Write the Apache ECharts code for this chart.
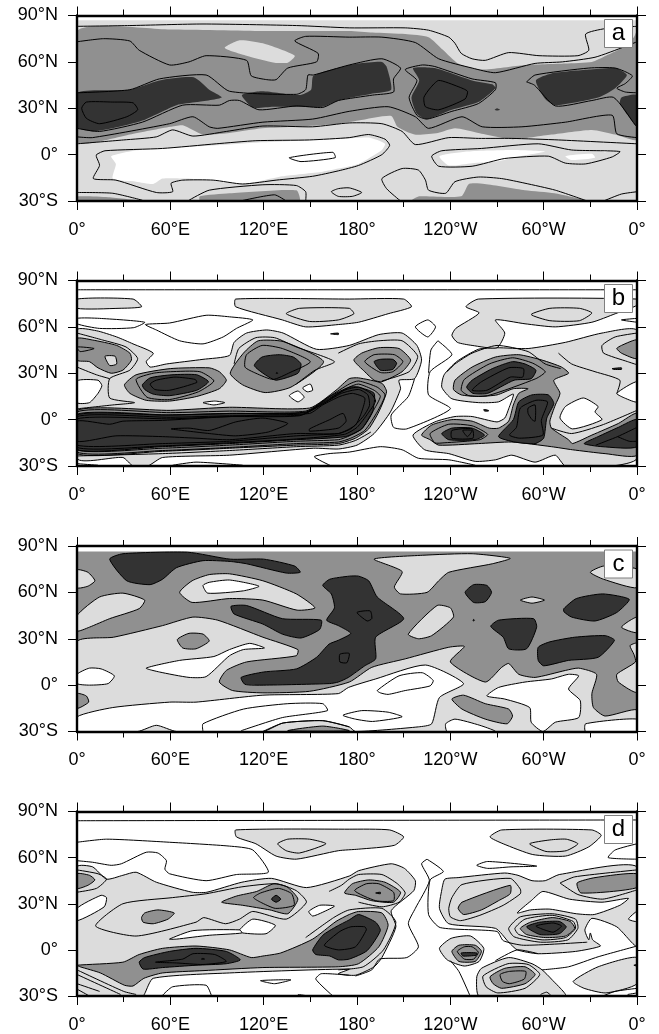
<!DOCTYPE html>
<html><head><meta charset="utf-8">
<style>html,body{margin:0;padding:0;background:#fff}#c{width:659px;height:1034px}</style>
<script src="https://cdn.jsdelivr.net/npm/echarts@6/dist/echarts.min.js"></script>
</head><body><div id="c"></div>
<script>
// Tick labels
const xTickValues=[0,60,120,180,240,300,360];
const xTickLabels=['0°','60°E','120°E','180°','120°W','60°W','0°'];
const yTickValues=[-30,0,30,60,90];
const yTickLabels=['30°S','0°','30°N','60°N','90°N'];
const panelLetters=['a','b','c','d'];
const shadeColors=['#ffffff','#dcdcdc','#909090','#333333'];
// Every contour is a flat list lon,lat,lon,lat... ; fills are [shade level, contour]
const aBase=[1,87];
const aFill=[
[2,[0,80,60,81,120,80,175,80,190,79,211,78,226,76,235,68,245,59,260,55,288,58,314,59,331,60,340,64,350,69,358,76,360,80,360,10,346,13,331,16,305,13,280,10,258,14,243,17,232,14,217,13,206,18,202,25,181,22,168,20,141,18,119,17,98,14,81,13,68,19,60,18,34,13,12,8,0,8]],
[2,[0,-27,20,-27.5,42,-30,0,-30]],
[2,[79,-27,98,-25,141,-23,143,-30,79,-30]],
[2,[215,-30,220,-27,247,-27,252,-19,262,-19,288,-23,307,-25,327,-30]],
[1,[95,69,104.5,74,119.5,72,140,64,135.5,59.5,127,59.5,109,64]],
[3,[0,40,34,42,53,48,75,50,85,42,93,37,77,34,64,32,42,22,23,17,10,15,0,18]],
[3,[360,38.5,350,37,349,33,358,20,360,18]],
[3,[106,38.5,119,41,143,38.5,150.5,42,152,51,175,58,181,59,196,60,199,57,202,42,190,39.5,168,35,158,31,141,31,126,31,113,30.5]],
[3,[216,56,230,56,254,48,267,45.5,269,43,258,34,241,29,225,23,218.5,26.5,215,37,220,48]],
[3,[295,48,305,52.5,329,55,346,56,353.5,51.5,346,43,335,37,307.5,32,301,36]],
[0,[22,-1,40,3,89.5,6,119.5,8,175,10.5,187.5,11,198,7,196,3,181,-6,168,-9,158,-11,132,-14,107,-19,85,-16.5,70,-15.5,55,-15.5,49,-19,38,-17.5,23,-15.5,25,-6]],
[0,[233,-1,251,2,280,3,301,2,285,-1,269,-4.5,254,-5.5,239,-7]],
[0,[314,-1,331,0.5,333,-2,318,-3.5]],
[0,[337,2,341,2.5,340,1.5]],
[3,[268.5,29,270,30,272,29,270,28.5]]
];
const aClosed=[
[211,55,222,58,230,57,254,49,269,46.5,269,42,258,33,241,28,225,23,218.5,25.5,213.5,37,218.5,48],
[232.5,48,245,44,251,41,249.5,36,232.5,29,224,31,223,37,227,43],
[3,30,6,34,23,34,36,33.5,39,29,32,24.5,14.5,20,6,23.5],
[12.5,0,18,2.5,55,4,89.5,7,115,9,149.5,9.5,175,11,187.5,13,198,10,201,6,196,0,181,-7,168,-10.5,151.5,-14,128,-16.5,106.5,-19,87.5,-16.5,68,-16.5,60.5,-18.5,61.5,-24,51,-24.5,25,-16.5,10.5,-15.5,14.5,-7,12.5,-1.5],
[228,-1,234.5,2.5,260,4,296.5,7,318,3,349,2,344,-1.5,327,-6,314,-5.5,303,-1,275,-2.5,254,-7.5,232.5,-7.5],
[163.5,-24,168,-22,175,-21.5,183,-24.5,177,-27,168,-27],
[136.5,-2,164.5,1.5,166,-2,144,-4.5]
];
const aOpen=[
[0,83,34,83.5,81,84.5,141,83.5,175,82,211,82,226,80.5,239,76,243,72,247,65.5,254,62,262.5,61,277.5,66,297,64,322,64,329,67.5,327,78,339.5,81.5,360,83],
[0,73,17,75,34,73.5,40,67.5,59.5,58,72,60,83,64,109,61,112,51,122,48.5,128,48.5,135.5,56,154,60,155,65.5,140,73.5,147,76.5,175,76,196,76,217.5,72.5,232.5,62,254,56,269,53,294.5,59,312,60,333,63,352.5,70,360,73],
[0,40,34,42,53,49,83,51.5,98,41,141,39,147,42,148.5,51.5,152,51.5,175,58,196,62,208,56,203.5,49,203.5,40.5,190,38.5,168,35,158,30.5,141,31.5,117,29,104.5,35,98,35,91.5,32,68,32,42,21,14.5,15,0,17],
[289,47,294.5,51.5,329,56,346,56,357,51,352.5,46,347,43,352.5,40.5,360,40],
[289,47,294,45,307.5,31.5,331,35,345,37,359,19,360,18],
[0,11.5,10,11,59.5,20,74.5,24.5,85,18,90.5,17,119.5,21,151.5,23,175,28,200,31,217.5,24.5,226,17,247.5,24.5,260.5,18,286,18,314,21,344,25.5,347,13.5,360,11],
[0,7,30,9.5,51,11.5,61.5,16,74.5,12,96,15,119.5,18.5,151.5,18,175,20.5,196,20,209,15,217.5,6.5,239,11,258,10.5,279.5,10.5,309.5,9.5,360,7],
[208,-30,199,-22,196,-15.5,209,-9,219.5,-10,224,-16.5,226,-23,237,-25,243,-17.5,258,-14.5,273,-15.5,288,-18.5,307.5,-23,328,-30],
[0,-24.5,23,-25,42,-29.5],
[72,-29.5,85,-23,119.5,-19.5,141,-20,147,-24,147,-30],
[105,-30,127,-26,134.5,-30],
[338.5,-30,350,-25.5,360,-24]
];
const bFill=[
[1,[0,58,12.5,57.5,25.5,53.5,36,49,49,43,44.5,37.5,47,34,57.5,36,81,39,98,41.5,101,50,109,56,122,58,132.5,56,154,45.5,175,48,194,55,209,56,218.5,48,221.5,38.5,217,26.5,207,25.5,208,20,201.5,5,191,-9,180,-16.5,168,-19,152,-18.5,98,-23,55,-24.5,45.5,-30,36,-30,29.5,-24.5,0,-25]],
[1,[270,46.5,290,46,314,50,337.5,56,360,57.5,360,-25,344,-30,314,-30,307.5,-23,294.5,-27.5,279.5,-23,269,-26,256,-27,239,-22,223.5,-19.5,216,-10,230,-1.5,243,2,254,2,270,-1.5,275,1,277.5,7,280.5,16.5,271,11.5,258,11,241,13.5,234.5,21,236,29,244,37.5,258,45.5]],
[1,[0,78,36,78,41.5,73,27,72,0,72]],
[1,[102,78,175,78,210,78,215,73,200,68.5,181,63,168,61.5,147,60,132,64.5,102,73]],
[1,[258,78,360,78,360,74,346,68.5,331,63,307.5,60,288,62,269,64.5,275,56,270,46.5,254,48,244.5,50,241,54.5,243.5,59,258.5,69,250,73]],
[0,[0,25,13.5,25.5,16,22,13.5,17,8,11,0,11]],
[0,[81,11,88.5,12,95,11,88,9.5]],
[0,[136.5,15.5,142,18.5,146,14.5,142,11.5]],
[0,[145,20.5,150,23,151.5,19,148,18]],
[0,[310.5,1,314,8.5,325.5,14,335,8.5,333,5,337.5,0,318.5,-6]],
[0,[347,17,360,24.5,360,11.5,352,14]],
[2,[0,52.5,10,51.5,25.5,48,34,43,35,38.5,29.5,32,22,30,13.5,33.5,8,37.5,0,38.5]],
[2,[360,51.5,350,48,347,46,350,43,360,39.5]],
[1,[18,41,24.5,41,25.5,36,21,35]],
[2,[30.5,22.5,38,29,60,33,85,33.5,91.5,31,96,25.5,91.5,20,77,15,59.5,12,44.5,12.5,34,17]],
[3,[42,22.5,47,27,61,29,77,29,84.5,24.5,77,19,59.5,15.5,49,16.5,43.5,19.5]],
[2,[98.5,30,107,43,116.5,51,132.5,50.5,158.5,37.5,137.5,21,121,17.5,106.5,22.5]],
[3,[114,35,119,40.5,130,42,139,40.5,144,36,142,30,128,25.5,121,29]],
[2,[178,38.5,183,43,194,46.5,207,46,214.5,38.5,209,31,196,24.5,191,25.5,185,31]],
[3,[191,37.5,195,39,203,39,205.5,36.5,203,32.5,195,32]],
[2,[0,6,60,6,98,8,149.5,7.5,166.5,19,175,26.5,181,27,196,23.5,199,18,194,5,187.5,-6,179,-12,168,-15.5,141,-16.5,98,-18.5,55,-20.5,0,-22]],
[3,[0,3,55,3,98,4,147.5,5,162.5,15,175,21,181,21,191,17,190,5,183,-6,172.5,-11,141,-13,98,-15.5,55,-17.5,0,-19.5]],
[2,[242,19.5,243,25.5,254,34,269,40.5,284,42,299,38.5,311.5,34,316,30,306.5,25.5,310.5,17,307.5,9.5,304,-1,305,-5.5,316,-13,318.5,-15.5,331,-10,348,-2.5,360,4,360,-23,339.5,-22,318.5,-19.5,305,-17.5,279.5,-14.5,258,-15.5,232.5,-16.5,227,-13,221.5,-10,228,-3.5,241,0,254,-1,265,-5.5,271,-5.5,277.5,-1,280.5,9.5,284,17,290,20,280.5,20,270,16,258,15,247,16]],
[3,[250.5,21,254,25.5,267,33,280,37.5,288,36,295,32,292,26.5,281,25.5,264,17,254.5,17]],
[3,[280.5,0,284,11.5,292.5,16,303,16,306.5,10.5,302,1,300,-12,294.5,-15.5,281.5,-14.5,271,-11]],
[3,[234.5,-9,241,-5.5,254,-5.5,262,-10,256,-13,239,-13]],
[3,[326,-15.5,335,-11,348,-5,360,0,360,-17.5,337.5,-17.5]],
[3,[163,55.5,168,56,168,55]],[3,[344,33,350,33.5,350,32.5,345,32.5]],[3,[261.5,6.5,264.5,6,264.5,5.5,262,5.5]],[3,[128,30,128.5,30.5,129,30]]
];
const bClosed=[
[0,47,11,46,2,44],
[38,26,49,30,60,31,79,31,88,25,78,18,59.5,13,45,14.5],
[47,23,51,25.5,63,27.5,76,26,77,24,59.5,19,50,19.5],
[108,34,109,42,119,48,132,46,150,37.5,137,30.5,126,26,115,30],
[185,37.5,191,42,204,42,209.5,37.5,203,31,195,30.5],
[0,5,60,4.5,98,5.5,147,5.5,163,15.5,175,23,181,25,193,21,198,16,193,5,185,-7,176,-12,168,-14.5,141,-15.5,98,-18,55,-20,0,-21],
[0,3.5,60,3,98,4,146,4.5,161,13,175,21,181,23,191,19,195,15,190,5,183,-6,174,-11,168,-13,141,-14,98,-16.5,55,-18.5,0,-19.5],
[0,2,60,1.5,98,2.5,144,3,159,11,172,19,181,21,189,17,192,12,187,4,180,-5,172,-9.5,141,-12.5,98,-15,55,-17,0,-18],
[0,0.5,60,0.5,98,2,143,2.5,158,10,170,17,181,19.5,187,16,188,9,184,2,176,-6,168,-9,141,-10.5,98,-14,55,-15.5,0,-16.5],
[0,-1,21,-3,29.5,-1,55,-0.5,89.5,1.5,119.5,3,149.5,4,158,9.5,169,15,177,17,185,14,183,5,179,-3.5,168,-9,141,-9,98,-13,76.5,-12,55,-11,25,-10.5,0,-14],
[60.5,-6,72,-5.5,85,-7,102,-1.5,119.5,1,135.5,-2.5,123,-8,102,-10.5,85,-9,72,-7.5],
[149.5,-6,162.5,0,171,4,173,-1,168,-5.5,149.5,-7.5],
[254,19,260,24.5,277.5,33.5,287,33,286.5,27.5,278.5,27.5,263.5,19],
[247,19,249,26,265,36,280,40,293,36.5,301,31,295,26.5,264,15.5,252,15.5],
[282.5,-5,285,7.5,295,12.5,302.5,11.5,298.5,-0.5,299.5,-10,284.5,-12,278,-10],
[290,7.5,294.5,9.5,294.5,-1,292.5,0,290,4],
[241,-7,254,-6,254.5,-12,241,-12],
[248,-7,254,-7,251,-11],
[227,-9,239,-3,254,-4,264,-9.5,259,-13,236,-15,230,-15],
[44,61.5,59.5,62.5,83,67.5,98,66.5,113,64.5,102.5,59,94,53.5,81,49,66,51,51,58],
[0,65.5,14.5,65.5,43.5,63,36.5,59.5,14.5,59,0,62],
[217.5,60,225.5,64.5,230.5,60,225.5,53.5],
[292,68,304,72,323,72,331,69,323,64,304,64],
[134.5,68.5,143,72,175,72,178,68.5,168,64.5,149.5,63.5]
];
const bOpen=[
[0,84,360,84],
[360,65.5,350,64.5,360,63],
[0,56,16.5,51.5,31.5,47,39,39.5,34,32,21,26.5,21,14,37,11,23,9.5,0,7],
[0,34,12.5,29,21,26.5],
[360,56,346,53.5,337.5,48,338.5,43,354,37.5,360,35.5],
[101,36,104,46,115,53,127,53,141,47,165.5,37.5,153,32,141,23],
[168,43,181,49,194,51,209,51,219,41,213.5,31,196,25],
[232,51,241,42,227,31,226,16,240,7,212,-6,203.5,-5,202,3,213,15,217,26.5],
[232,51,227.5,45,226,30],
[163.5,-30,152.5,-24,162,-22,175,-21,195,-17.5,209,-19.5,219.5,-25,239,-26,256,-29.5],
[61.5,-29.5,76.5,-27.5,106.5,-29.5],
[0,-28.5,13.5,-29.5],
[309.5,43,318,36,333,31,349,25.5,347,17],
[305,-5.5,318,-9,337.5,-3.5,360,6],
[333.5,-16.5,347.5,-11,360,-5],
[347.5,-11,355,-14,360,-14],
[238,31,243,36,254,43,270,48,290,44,301,36,311,33],
[0,-23.5,55,-22,98,-20,141,-17.5,168,-16.5,179,-13.5,189,-8]
];
const cBase=[2,86.5];
const cFill=[
[1,[0,28,23.5,31,55,38.5,74.5,44,90.5,42,119.5,31,142,23,141,19,109,15,96,9.5,91.5,2,100,-3.5,119.5,-5,149.5,-4,175,2,189.5,11.5,211,17,239,24.5,249,25,240,15,262.5,2,273,11.5,277.5,14,284,7,294.5,5,314,9.5,322.5,11,334,7,331,-5.5,332,-14.5,339.5,-20,360,-16,360,-30,0,-30]],
[1,[360,27,355.5,25.5,358,20,359,15,347,7,348,2,360,-4.5]],
[1,[350,37.5,360,44,360,34]],
[1,[330,73,338.5,77,360,75,360,63,338.5,68.5]],
[1,[0,74.5,7,73,11.5,67.5,7,64,0,63]],
[1,[0,45,14.5,57,29.5,59.5,43.5,55,40,49.5,21,43,8,37.5,0,35]],
[1,[66,60,74,67.5,85,71.5,98,72,119.5,67.5,141,59,153,50,141.5,48.5,119.5,55,98,56,74,53.5]],
[1,[191,81.5,222,84,254,85,278.5,82,267,78.5,239,73,232.5,67.5,225,60,208,59,204,63.5,209,73.5]],
[1,[213,33,231.5,51.5,240,50,242,44,228,32,219.5,30]],
[1,[285,55,292.5,57,300.5,55,292.5,53]],
[0,[81,64.5,85,66.5,98,68,117,64,107,61,84,59.5]],
[0,[0,7,8,11,15.5,10.5,24,6,20,1,8,0,0,1]],
[0,[44.5,11,66,16,88,18.5,98,23,111,27,120.5,24,107,23,98,19,83,5.5,72,5,53,8.5]],
[0,[0,-20.5,23,-14.5,59.5,-11,76.5,-11,119.5,-6.5,168,-5.5,174.5,-1.5,192,4,224,13,248.5,1,233,-8,228,-25,219.5,-27,179,-30,175,-27,158,-23,132.5,-24.5,119.5,-30,64,-30,51,-26,39,-30,0,-30]],
[0,[237,-25,243,-22,259,-26,269,-30,238,-30]],
[0,[263.5,-7,271,-1.5,288,2,305,4,316,7,322.5,6,316,-2.5,323.5,-10,322.5,-21,307.5,-24,299.5,-30,292,-24,291,-14.5,275,-9]],
[0,[327,-25,360,-22,360,-30,327,-30]],
[2,[135.5,-29.5,158,-26.5,175,-29.5]],
[2,[64.5,29.5,72,33.5,81,33,85,28.5,76.5,23.5,68,24]],
[2,[0,-5.5,6,-7,7.5,-11,0,-15]],
[2,[241,-9,248.5,-6.5,262.5,-12,277.5,-15.5,280,-20,276.5,-25,262.5,-22,247.5,-15.5]],
[3,[21,81.5,29.5,85,71,86,98.5,81.5,120,81.5,140,77,143.5,73,134.5,72.5,109,78.5,98.5,80,81,80.5,64,76,55,68.5,47,65,32,67.5]],
[3,[99,51,109,51.5,132,43,157,42,156,36,144,30.5,132,33,119.5,39.5,101,46]],
[3,[105.5,5,120,8.5,141,10.5,154,18,162,26.5,168,29,176,33.5,168,38.5,160.5,42,165.5,50,163.5,59,158,64.5,162.5,68.5,175,70.5,181,70.5,187.5,67.5,193,57,210,43,192,31,192,17,185,12.5,174.5,5,168,2,162.5,1,120,0,108,0.5]],
[3,[249.5,60,255,65,263.5,64.5,266.5,60,262.5,54,255,53.5]],
[3,[313,49.5,321,56,338,59,355,55.5,347,47,333,41.5,318,44,313,47.5]],
[3,[266,38,271,42,293.5,43,295.5,37.5,289,23.5,277.5,23.5,274,31]],
[3,[296.5,24.5,304,28,320,31,339.5,32,345.5,29,335,18,316,16,300,12.5,296.5,16]],
[3,[254.5,42,255,42.5,255.5,42,255,41.5]]
];
const cClosed=[
[180,47,188.5,48,189.5,43,186.5,41.5],
[169,20,175,20.5,173.5,14.5,169,15],
[171,-19.5,183,-16.5,200,-17.5,209,-20.5,190,-23.5,179,-22],
[193,-3.5,207,6,222,8,229,3,227,-0.5,211,-3.5,200,-6,195,-5]
];
const cOpen=[
[81,-30,81,-25,107,-15.5,135.5,-12,158,-12,161,-16.5,132,-21,105.5,-29.5],
[119.5,-30,132.5,-24.5,158,-23,175,-27]
];
const dFill=[
[1,[0,54,10,54,19,46,29.5,48.5,38,50.5,51,44,74,37.5,83.5,37.5,106,44,125,46.5,147.5,40.5,175,48,181,51.5,202,56,210.5,53,217.5,45,216.5,38.5,202,25.5,205,15,196,-5,191,-11,179,-16.5,168,-15.5,175,-12.5,98,-15,49,-18.5,43.5,-28.5,42.5,-30,0,-30]],
[1,[102,78,175,78.5,201,78,210,73.5,204,68,181,65.5,168,64.5,141,59,128,61,115,69,102.5,73.5]],
[1,[265.5,73.5,273,78,331,78,337,74.5,329,67,314,61,293,62,274,69]],
[1,[236.5,46,245,47,275,50,283.5,48.5,292.5,45,301,45,310,49,360,54,360,2.5,347,15,331,20.5,326.5,13,329,6.5,330,11,331.5,6.5,336.5,2.5,320.5,-1,296.5,-2.5,283,0,277.5,5,269,14,239,17,233,27,234.5,39]],
[1,[233,1,240.5,7.5,253,9,261.5,1,258.5,-7.5,249,-10.5,238,-6.5]],
[1,[258.5,-30,257,-17.5,260,-12,277.5,-5,292.5,-9,299,-13,305,-19,314,-30]],
[1,[319,-20.5,335,-11,360,-5,360,-22,340,-28,326,-25]],
[0,[0,27,15.5,35.5,19,34,17.5,28,0,19]],
[0,[149,25,156,29,165.5,28.5,158,24.5,151.5,22]],
[0,[104.5,13,113,20,127.5,16,121.5,10.5,106.5,11]],
[0,[59.5,7,74.5,12.5,104.5,13,106,11,85,9.5,64,7]],
[0,[283,24,292,32,299.5,38,316.5,33,337.5,31,354.5,33.5,349,29,332.5,23,321,23.5,304,26.5,291.5,26]],
[0,[354.5,20,360,25,360,18.5]],
[2,[0,49.5,8,48.5,11.5,45.5,7,42,0,40]],
[2,[321.5,43.5,333,47,360,49.5,360,40.5,324,37]],
[2,[93,31,102.5,35,115.5,38,126.5,43,135,41,142,33,135.5,23.5,124,26,106.5,29]],
[2,[41.5,21,43.5,24,52,26,62.5,24,58.5,20,49,17,42.5,18]],
[2,[172,37,177,43,187.5,45.5,198,44,208,37.5,203.5,31,189.5,32,179,35.5]],
[2,[0,-10,29.5,-8,40,-3,55,1,76.5,2.5,98,0,112,-5,119.5,-4,131,-2,151.5,7,166.5,18.5,175,23,181,25,196,24,200,16,194,2,181,-9,168,-11,119.5,-11.5,81,-13.5,55,-15,43,-18.5,36,-23.5,30.5,-23,15,-15,2,-11]],
[3,[40,-8,43.5,-5,59.5,-1,76.5,1,96,-1,105,-6.5,96,-9,76.5,-10,55,-11.5,42.5,-12.5]],
[3,[151.5,0,158,9.5,166.5,15,175,19.5,181,23,192,18,195,12.5,186.5,-0.5,175,-6,168,-6.5,162.5,-4,153.5,-3]],
[2,[245,27,247.5,31,278.5,42,278.5,36.5,271,32,260,26,248.5,23]],
[2,[285,14,291.5,18,305.5,21,317,18.5,320,14,314,9,301,8,289,10]],
[3,[289,15,297.5,18,310,18.5,314.5,15,310,10.5,297.5,10]],
[2,[241,-1,245.5,3,256,3,260,-1,256,-7.5,245.5,-7.5]],
[2,[265.5,-17.5,275,-12,288,-11,294.5,-16,288,-22,273,-25,267.5,-22]],
[3,[125,33,128,35.5,131,33,128,31]],
[3,[247,-2,257,-2,256.5,-3.5,248,-4]],
[3,[295,15.5,306,17.5,311.5,15.5,306,11.5]],
[3,[192,37,195,37.5,195,36.5]],
[3,[80,-6,81,-5.5,82,-6]],[3,[358,-10,360,-9.5,360,-10.5]]
];
const dClosed=[
[129,69,135.5,72,149.5,72,160,69,143,63,134.5,64.5],
[291,69,304,71.5,314.5,72,322,69,314.5,64.5,301.5,64],
[12,15.5,38,9,76.5,18,81.5,21,95.5,17,104.5,20,113,25,134.5,20,147.5,31,141,38.5,128,43,106,41,83,36.5,61.5,34,29.5,30],
[113.5,34,118,37,129.5,40,138,36.5,139.5,29,127.5,27,118,31],
[178.5,38.5,186,43,194,43,203.5,37.5,203.5,32,192,32],
[50.5,-8,68,-6,74.5,-2.5,88.5,-3,96,-7.5,81,-9.5,64,-8.5],
[159,3,169,12,176,15,185,15,186,13,179,2,168,0],
[239,27,241,34,247.5,42.5,278.5,46.5,285,39.5,285,36.5,274,29,259,22.5,246.5,19,240,21.5],
[277.5,14,285,21.5,305.5,23.5,320.5,20,322,14,315.5,6.5,298,5,281,8.5],
[281.5,14,288,20,305.5,22.5,319,18.5,320.5,14,314,8,299,6.5,284,10],
[244.5,-1,249,2,254,2,258,-1.5,255,-6,249,-6],
[261,-17,277,-9,290,-9.5,297.5,-16,288,-25,270.5,-28,263,-24],
[272,-16,278,-14,288.5,-14,287.5,-19,278,-22,273.5,-20.5],
[118,-20,127,-22,137.5,-19.5],
[257,55,264,57.5,295.5,54.5,279,54,264,53]
];
const dOpen=[
[0,84,360,84.5],
[0,70,19,72,59.5,70,98,67.5,113,65,123,50.5,102.5,49,83,45,59.5,49.5,56.5,52.5,57.5,58,52,63,44.5,63.5,28.5,56,22,55,10,57,0,58],
[360,69,346,65,341.5,60,360,59],
[0,52,13.5,49.5,19,46,12.5,40,0,37.5],
[162,38,170,42,175,46,181,49,196,49,206,43,211,37,207,31,196,28,181,31],
[147,8,165,21,175,26,196,27,205,18,197,0,184,-11,168,-13],
[225,59,235.5,51,227,45.5,226,23,233.5,14.5,270,12,274,6,287,3,328,5],
[225,59,221.5,56,226.5,45,217.5,27,213,17,219.5,2,212,-5,194.5,-6,189.5,-13,179,-17],
[0,-13,30,-27,38,-29],[0,-16,28,-29],[0,-22,14.5,-27],[0,-25.5,8,-30],
[55,-29.5,61.5,-24,83,-23,86.5,-30],[142,-29,149,-30],
[164.5,-30,153.5,-19,157,-15.5,175,-16.5],
[240,-7,245.5,-14,252.5,-29.5],
[299,-13,316,-11,335,-4.5,360,2.5],
[269,-7,283,0,296.5,-2.5],
[298,-29,302,-27.5,305,-30],[338,-30,346,-27,360,-25],[354,-29,360,-28],
[310.5,43.5,320,47.5,360,52],[310.5,43.5,322,36,338,33,360,39]
];

const panels=[
 {top:15.5,base:aBase,fill:aFill,closed:aClosed,open:aOpen,stroke:false},
 {top:280.5,base:null,fill:bFill,closed:bClosed,open:bOpen,stroke:true},
 {top:546,base:cBase,fill:cFill,closed:cClosed,open:cOpen,stroke:true},
 {top:811.5,base:null,fill:dFill,closed:dClosed,open:dOpen,stroke:true}
];
const GL=77,GW=560,GH=185.5;
const font='"Liberation Sans"';
function pairs(f){const r=[];for(let i=0;i<f.length;i+=2)r.push([f[i],f[i+1]]);return r;}
function lookup(vals,labs){return v=>{const i=vals.indexOf(v);return i<0?'':labs[i];};}
const grid=[],xAxis=[],yAxis=[],series=[],graphic=[];
panels.forEach((p,k)=>{
 grid.push({left:GL,top:p.top,width:GW,height:GH});
 const line={show:true,onZero:false,lineStyle:{color:'#000',width:2.4}};
 const xBase={type:'value',gridIndex:k,min:0,max:360,interval:60,z:6,splitLine:{show:false},axisLine:line,
   axisTick:{show:true,length:9,lineStyle:{color:'#000',width:1}},
   minorTick:{show:true,splitNumber:2,length:6,lineStyle:{color:'#000',width:1}},minorSplitLine:{show:false}};
 xAxis.push(Object.assign({},xBase,{position:'bottom',axisLabel:{show:true,margin:20,fontFamily:font,fontSize:18,color:'#000',formatter:lookup(xTickValues,xTickLabels),showMinLabel:true,showMaxLabel:true,hideOverlap:false}}));
 xAxis.push(Object.assign({},xBase,{position:'top',axisLabel:{show:false}}));
 const yBase={type:'value',gridIndex:k,min:-30,max:90,interval:30,z:6,splitLine:{show:false},axisLine:line,
   axisTick:{show:true,length:9,lineStyle:{color:'#000',width:1}}};
 yAxis.push(Object.assign({},yBase,{position:'left',axisLabel:{show:true,margin:19,fontFamily:font,fontSize:18,color:'#000',formatter:lookup(yTickValues,yTickLabels),showMinLabel:true,showMaxLabel:true,hideOverlap:false}}));
 yAxis.push(Object.assign({},yBase,{position:'right',axisLabel:{show:false}}));
 const shapes=[];
 if(p.base)shapes.push({pts:[[0,-30],[360,-30],[360,p.base[1]],[0,p.base[1]]],fill:shadeColors[p.base[0]],line:false,closed:true,smooth:0});
 p.fill.forEach(e=>shapes.push({pts:pairs(e[1]),fill:shadeColors[e[0]],line:p.stroke||false,closed:true,smooth:0.2}));
 p.closed.forEach(e=>shapes.push({pts:pairs(e),fill:null,line:true,closed:true,smooth:0.2}));
 p.open.forEach(e=>shapes.push({pts:pairs(e),fill:null,line:true,closed:false,smooth:0.2}));
 series.push({type:'custom',xAxisIndex:2*k,yAxisIndex:2*k,coordinateSystem:'cartesian2d',silent:true,animation:false,clip:true,z:2,
   data:shapes.map((s,i)=>[s.pts[0][0],s.pts[0][1],i]),
   renderItem:(params,api)=>{
     const s=shapes[params.dataIndex];
     return {type:s.closed?'polygon':'polyline',shape:{points:s.pts.map(q=>api.coord(q)),smooth:s.smooth},
       style:{fill:s.fill||'none',stroke:s.line?'#000':'none',lineWidth:1,lineJoin:'round'}};
   }});
 const bx=GL+GW-32.5, by=p.top+4;
 graphic.push({type:'rect',z:20,shape:{x:bx,y:by,width:28,height:28},style:{fill:'#fff',stroke:'#7f7f7f',lineWidth:1}});
 graphic.push({type:'text',z:21,x:bx+14,y:by+14,style:{text:panelLetters[k],font:'24px "Liberation Sans"',fill:'#000',textAlign:'center',textVerticalAlign:'middle'}});
});
const chart=echarts.init(document.getElementById('c'),null,{renderer:'canvas'});
chart.setOption({animation:false,backgroundColor:'#fff',grid,xAxis,yAxis,series,graphic});
</script></body></html>
